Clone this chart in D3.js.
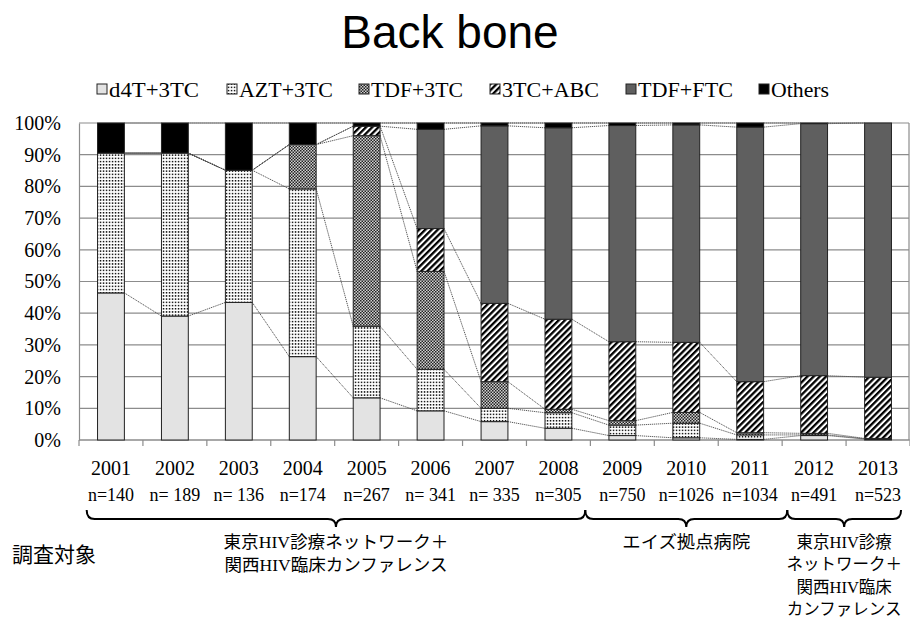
<!DOCTYPE html>
<html>
<head>
<meta charset="utf-8">
<script src="https://cdn.jsdelivr.net/npm/d3@7"></script>
<style>
html,body{margin:0;padding:0;background:#fff;}
svg{display:block;}
</style>
</head>
<body>
<svg id="chart" width="910" height="621"></svg>
<script>
// ---- data ----
const years = ["2001","2002","2003","2004","2005","2006","2007","2008","2009","2010","2011","2012","2013"];
const nLabels = ["n=140","n= 189","n= 136","n=174","n=267","n= 341","n= 335","n=305","n=750","n=1026","n=1034","n=491","n=523"];
const seriesNames = ["d4T+3TC","AZT+3TC","TDF+3TC","3TC+ABC","TDF+FTC","Others"];
const d4T    = [46.4, 39.1, 43.4, 26.3, 13.3,  9.2,  5.8,  3.7,  1.4,  0.7,  0.2,  1.4,  0.3];
const azt    = [44.1, 51.4, 41.7, 52.9, 22.6, 13.1,  4.2,  4.9,  3.3,  4.6,  1.4,  0.2,  0.1];
const tdf3tc = [ 0.0,  0.0,  0.0, 14.0, 60.1, 30.9,  8.4,  1.1,  1.4,  3.4,  0.7,  0.5,  0.1];
const abc    = [ 0.0,  0.0,  0.0,  0.0,  3.0, 13.5, 24.7, 28.4, 24.9, 22.1, 16.1, 18.2, 19.3];
const tdfftc = [ 0.0,  0.0,  0.0,  0.0,  0.0, 31.3, 56.0, 60.4, 68.2, 68.6, 80.3, 79.5, 80.2];
const others = [ 9.5,  9.5, 14.9,  6.8,  1.0,  2.0,  0.9,  1.5,  0.8,  0.6,  1.3,  0.2,  0.0];
const yTicks = [0,10,20,30,40,50,60,70,80,90,100];
const title = "Back bone";
const surveyLabel = "調査対象";
const groupLines = [
  ["東京HIV診療ネットワーク＋","関西HIV臨床カンファレンス"],
  ["エイズ拠点病院"],
  ["東京HIV診療","ネットワーク＋","関西HIV臨床","カンファレンス"]
];

// ---- layout constants (not data) ----
const groupSpan = [[0.12,7.92],[7.92,11.08],[11.08,12.86]];
const groupLineWidths = [[225,223],[128],null];
const legX = [97, 227, 359, 490, 626, 759];
const legTextW = [90, 94, 92, 97, 95, 58];

const seriesValues = [d4T, azt, tdf3tc, abc, tdfftc, others];
const table = years.map((yr,i)=>{
  const row = {year:yr};
  seriesNames.forEach((s,k)=>row[s]=seriesValues[k][i]);
  return row;
});

const svg = d3.select("#chart");
const pLeft = 79, pRight = 910, pTop = 123, pBottom = 440;
const serif = "'Liberation Serif','Times New Roman',serif";
const mixed = "'Liberation Serif','Noto Sans CJK JP',serif";

const x = d3.scaleBand().domain(years).range([pLeft,pRight]).paddingInner(0.58).paddingOuter(0.29);
const y = d3.scaleLinear().domain([0,100]).range([pBottom,pTop]);
const step = x.step();
const catPos = v => pLeft + v*step;

// ---- patterns ----
const defs = svg.append("defs");
const pDots = defs.append("pattern").attr("id","pAZT").attr("patternUnits","userSpaceOnUse").attr("width",3).attr("height",3.2);
pDots.append("rect").attr("width",3).attr("height",3.2).attr("fill","#fff");
pDots.append("rect").attr("x",0.8).attr("y",0.8).attr("width",1.5).attr("height",1.5).attr("fill","#111");

const pChk = defs.append("pattern").attr("id","pTDF3TC").attr("patternUnits","userSpaceOnUse").attr("width",3).attr("height",3);
pChk.append("rect").attr("width",3).attr("height",3).attr("fill","#d0d0d0");
pChk.append("rect").attr("x",0).attr("y",0).attr("width",1.5).attr("height",1.5).attr("fill","#222");
pChk.append("rect").attr("x",1.5).attr("y",1.5).attr("width",1.5).attr("height",1.5).attr("fill","#222");

const pStr = defs.append("pattern").attr("id","pABC").attr("patternUnits","userSpaceOnUse")
  .attr("width",4.4).attr("height",10).attr("patternTransform","rotate(45)");
pStr.append("rect").attr("width",4.4).attr("height",10).attr("fill","#fff");
pStr.append("rect").attr("width",2.3).attr("height",10).attr("fill","#000");

const fills = {
  "d4T+3TC":"#e3e3e3",
  "AZT+3TC":"url(#pAZT)",
  "TDF+3TC":"url(#pTDF3TC)",
  "3TC+ABC":"url(#pABC)",
  "TDF+FTC":"#5f5f5f",
  "Others":"#000"
};

// ---- title ----
svg.append("text").attr("x",450).attr("y",48).attr("text-anchor","middle")
  .attr("font-family","'Liberation Sans',Arial,sans-serif").attr("font-size",46).attr("fill","#000").text(title);

// ---- legend ----
const leg = svg.append("g");
seriesNames.forEach((s,i)=>{
  const g = leg.append("g").attr("transform",`translate(${legX[i]},89)`);
  g.append("rect").attr("x",0).attr("y",-5).attr("width",10).attr("height",10)
    .attr("fill",fills[s]).attr("stroke","#222").attr("stroke-width",1);
  g.append("text").attr("x",12).attr("y",0).attr("dy","0.35em")
    .attr("font-family",serif).attr("font-size",22).attr("fill","#000")
    .attr("textLength",legTextW[i]).attr("lengthAdjust","spacingAndGlyphs").text(s);
});

// ---- grid ----
const grid = svg.append("g");
grid.selectAll("line.h").data(yTicks).join("line").attr("class","h")
  .attr("x1",pLeft).attr("x2",pRight-1).attr("y1",d=>y(d)).attr("y2",d=>y(d))
  .attr("stroke","#8c8c8c").attr("stroke-width",1.2);
grid.append("line").attr("x1",pRight-1).attr("x2",pRight-1).attr("y1",pTop).attr("y2",pBottom)
  .attr("stroke","#8c8c8c").attr("stroke-width",1.2);

// y axis
const yAxis = d3.axisLeft(y).tickValues(yTicks).tickFormat(d=>d+"%").tickSize(0).tickPadding(18);
const ya = svg.append("g").attr("transform",`translate(${pLeft},0)`).call(yAxis);
ya.select(".domain").attr("stroke","#8c8c8c").attr("stroke-width",1.2);
ya.selectAll("text").attr("font-family",serif).attr("font-size",20).attr("fill","#000");

// x axis (ticks at category boundaries)
const bounds = d3.range(years.length+1).map(i=>catPos(i));
svg.append("line").attr("x1",pLeft).attr("x2",pRight).attr("y1",pBottom).attr("y2",pBottom)
  .attr("stroke","#8c8c8c").attr("stroke-width",1.2);
svg.selectAll("line.xt").data(bounds).join("line").attr("class","xt")
  .attr("x1",d=>d).attr("x2",d=>d).attr("y1",pBottom).attr("y2",pBottom+6)
  .attr("stroke","#8c8c8c").attr("stroke-width",1.2);

// ---- stacked bars ----
const stack = d3.stack().keys(seriesNames)(table);
const barsG = svg.append("g");
stack.forEach(layer=>{
  barsG.append("g").selectAll("rect").data(layer.filter(d=>d[1]-d[0]>0)).join("rect")
    .attr("x",d=>x(d.data.year)).attr("width",x.bandwidth())
    .attr("y",d=>y(d[1])).attr("height",d=>y(d[0])-y(d[1]))
    .attr("fill",fills[layer.key]).attr("stroke","#222").attr("stroke-width",1);
});

// ---- series lines ----
const slG = svg.append("g");
stack.forEach(layer=>{
  for(let i=0;i<layer.length-1;i++){
    const a = layer[i], b = layer[i+1];
    slG.append("line")
      .attr("x1",x(a.data.year)+x.bandwidth()).attr("y1",y(a[1]))
      .attr("x2",x(b.data.year)).attr("y2",y(b[1]))
      .attr("stroke","#444").attr("stroke-width",0.9).attr("stroke-dasharray","1.2,0.8");
  }
});

// ---- category labels ----
svg.selectAll("text.yr").data(years).join("text").attr("class","yr")
  .attr("x",d=>x(d)+x.bandwidth()/2).attr("y",475).attr("text-anchor","middle")
  .attr("font-family",serif).attr("font-size",20).attr("fill","#000").text(d=>d);
svg.selectAll("text.nl").data(nLabels).join("text").attr("class","nl")
  .attr("x",(d,i)=>x(years[i])+x.bandwidth()/2).attr("y",501).attr("text-anchor","middle")
  .attr("font-family",serif).attr("font-size",18).attr("fill","#000").text(d=>d);

// ---- braces ----
function brace(x0,x1){
  const yt=510, ym=519, yb=527, r=8, mid=(x0+x1)/2;
  return `M${x0},${yt} Q${x0},${ym} ${x0+r},${ym} L${mid-r},${ym} Q${mid},${ym} ${mid},${yb} Q${mid},${ym} ${mid+r},${ym} L${x1-r},${ym} Q${x1},${ym} ${x1},${yt}`;
}
groupLines.forEach((lines,gi)=>{
  const x0 = catPos(groupSpan[gi][0]), x1 = catPos(groupSpan[gi][1]), mid=(x0+x1)/2;
  svg.append("path").attr("d",brace(x0,x1)).attr("fill","none").attr("stroke","#000").attr("stroke-width",2);
  lines.forEach((ln,k)=>{
    const t = svg.append("text").attr("x",mid).attr("y",542+k*22.4).attr("dy","0.35em").attr("text-anchor","middle")
      .attr("font-family",mixed).attr("font-size",gi===2?16.5:17.5).attr("fill","#000").text(ln);
    if(groupLineWidths[gi]) t.attr("textLength",groupLineWidths[gi][k]).attr("lengthAdjust","spacingAndGlyphs");
  });
});
svg.append("text").attr("x",12).attr("y",555).attr("dy","0.35em")
  .attr("font-family","'Noto Sans CJK JP',sans-serif").attr("font-size",21).attr("fill","#000").text(surveyLabel);
</script>
</body>
</html>
